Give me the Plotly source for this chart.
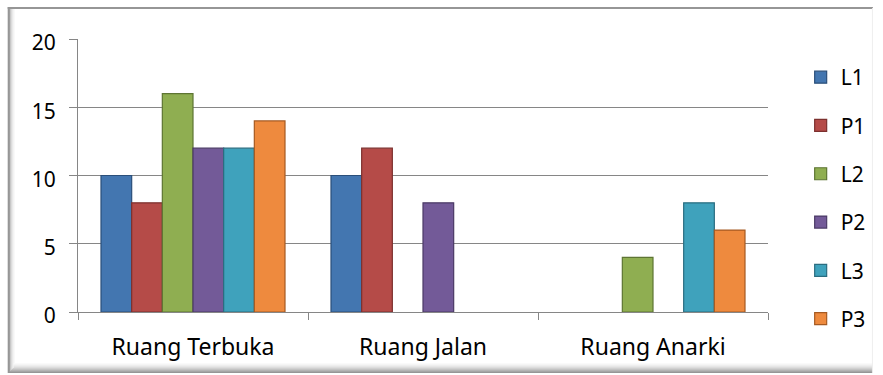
import plotly.graph_objects as go

# Categories and series values
categories = ["Ruang Terbuka", "Ruang Jalan", "Ruang Anarki"]
series_names = ["L1", "P1", "L2", "P2", "L3", "P3"]
L1 = [10, 10, 0]
P1 = [8, 12, 0]
L2 = [16, 0, 4]
P2 = [12, 8, 0]
L3 = [12, 0, 8]
P3 = [14, 0, 6]
y_ticks = [0, 5, 10, 15, 20]

series_values = [L1, P1, L2, P2, L3, P3]
fills = ["#4376B0", "#B54B48", "#8FAE51", "#735A98", "#3FA2BC", "#EE8A3E"]
edges = ["#2B4F7A", "#7C302E", "#5E7533", "#4B3A66", "#2A6D80", "#A65A22"]

W, H = 883, 375
ml, mr, mt, mb = 78, 108, 39, 63
pw, ph = W - ml - mr, H - mt - mb


def px_x(p):
    return (p - ml) / pw


def px_y(p):
    return (H - mb - p) / ph


def grey(v):
    return f"rgb({v},{v},{v})"


fig = go.Figure()
for name, vals, fc, ec in zip(series_names, series_values, fills, edges):
    fig.add_trace(go.Bar(
        name=name, x=categories, y=vals, legendgroup=name,
        marker=dict(color=fc,
                    line=dict(color=ec, width=[1.2 if v else 0 for v in vals])),
    ))

font_family = "Noto Sans, Open Sans, Liberation Sans, sans-serif"

# Chart frame: white panel, grey top/left border, soft inner shadow on left and bottom
shapes = [
    dict(type="rect", xref="paper", yref="paper", layer="below",
         x0=px_x(7), x1=px_x(881), y0=px_y(373), y1=px_y(7),
         line=dict(width=0), fillcolor="white"),
]
left_shades = [150, 175, 200, 220, 235, 246]
for i, v in enumerate(left_shades):
    shapes.append(dict(type="rect", xref="paper", yref="paper", layer="below",
                       x0=px_x(8 + i), x1=px_x(9 + i), y0=px_y(373), y1=px_y(8),
                       line=dict(width=0), fillcolor=grey(v)))
bottom_shades = [150, 165, 180, 195, 208, 220, 230, 238, 245, 250]
for i, v in enumerate(bottom_shades):
    shapes.append(dict(type="rect", xref="paper", yref="paper", layer="below",
                       x0=px_x(8 + min(i, 5)), x1=px_x(881), y0=px_y(373 - i), y1=px_y(372 - i),
                       line=dict(width=0), fillcolor=grey(v)))
shapes.append(dict(type="line", xref="paper", yref="paper", layer="below",
                   x0=px_x(7), x1=px_x(881), y0=px_y(8), y1=px_y(8),
                   line=dict(color=grey(150), width=2)))
shapes.append(dict(type="line", xref="paper", yref="paper", layer="below",
                   x0=px_x(8), x1=px_x(8), y0=px_y(7), y1=px_y(373),
                   line=dict(color=grey(150), width=2)))
shapes.append(dict(type="line", xref="paper", yref="paper", layer="below",
                   x0=px_x(880.5), x1=px_x(880.5), y0=px_y(8), y1=px_y(373),
                   line=dict(color=grey(238), width=1)))

fig.update_layout(
    width=W, height=H,
    margin=dict(l=ml, r=mr, t=mt, b=mb),
    paper_bgcolor="white", plot_bgcolor="white",
    barmode="group", bargap=0.2, bargroupgap=0,
    font=dict(family=font_family, size=22, color="#000000"),
    showlegend=True,
    legend=dict(
        x=px_x(808), y=px_y(57), xanchor="left", yanchor="top",
        traceorder="grouped", tracegroupgap=18, maxheight=400,
        font=dict(size=21), itemwidth=30,
        bgcolor="rgba(0,0,0,0)",
    ),
    xaxis=dict(
        showline=True, linecolor="#868686", linewidth=1,
        ticks="outside", tickson="boundaries", ticklen=7, tickcolor="#868686",
        ticklabelstandoff=14, showgrid=False,
        tickfont=dict(size=23),
    ),
    yaxis=dict(
        range=[0, 20], tickvals=y_ticks, showline=True,
        linecolor="#868686", linewidth=1,
        ticks="outside", ticklen=8, tickcolor="#868686",
        showgrid=True, gridcolor="#868686", gridwidth=1,
        ticklabelstandoff=9, ticklabelshift=4, zeroline=False,
        tickfont=dict(size=21),
    ),
    shapes=shapes,
)

fig.write_html("out.html")
